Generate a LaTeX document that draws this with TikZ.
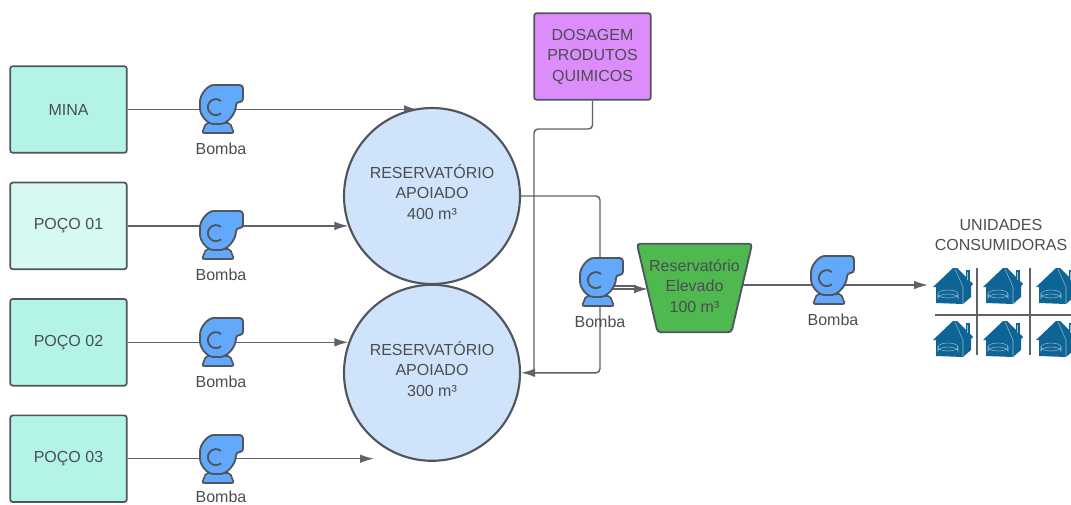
\documentclass[tikz,border=0pt]{standalone}
\usepackage{fontspec}
\setmainfont{Liberation Sans}
\usetikzlibrary{shapes.geometric, arrows.meta, positioning, calc}
\definecolor{linegray}{HTML}{5F6368}
\definecolor{textgray}{HTML}{4A4D52}
\definecolor{borderdark}{HTML}{50555E}
\definecolor{minagreen}{HTML}{B3F4E6}
\definecolor{pocolight}{HTML}{D6FAF2}
\definecolor{resblue}{HTML}{CFE4FA}
\definecolor{dosepurple}{HTML}{DC8CFB}
\definecolor{tankgreen}{HTML}{4FB84F}
\definecolor{pumpblue}{HTML}{62A8FB}
\definecolor{houseblue}{HTML}{0F6496}
\pgfdeclarelayer{back}
\pgfdeclarelayer{mid}
\pgfsetlayers{back,mid,main}
\tikzset{
  every node/.style={text=textgray,font=\fontsize{12}{15.4}\selectfont,align=center},
  source/.style={rectangle,draw=borderdark,line width=1.3pt,rounded corners=2pt,fill=minagreen,minimum width=87.5pt,minimum height=65pt},
  dosebox/.style={source,fill=dosepurple},
  reservoir/.style={circle,draw=borderdark,line width=1.6pt,fill=resblue,minimum size=132pt,inner sep=0pt,text depth=6pt},
  tankbox/.style={rectangle,minimum width=86pt,minimum height=66pt,inner sep=0pt,text depth=3pt},
  tankline/.style={draw=borderdark,line width=1.4pt,rounded corners=2.5pt,fill=tankgreen},
  flow/.style={line width=1.1pt,draw=linegray},
  flowarrow/.style={flow,-{Latex[length=10.5pt,width=6.5pt]}},
  gridline/.style={line width=1.4pt,draw=linegray},
  pump/.pic={
    \fill[pumpblue,draw=borderdark,line width=1.2pt,rounded corners=1.5pt] (-9,16) -- (-13,26) -- (19,26) -- (15,16) -- cycle;
    \fill[pumpblue,draw=borderdark,line width=1.4pt,rounded corners=2.5pt] (-15,-2) .. controls (-15,-13) and (-7,-22) .. (2,-22) -- (28,-22) -- (28,-5) -- (21,-5) .. controls (21,7) and (12,17) .. (2,17) .. controls (-8,17) and (-15,8) .. (-15,-2) -- cycle;
    \draw[borderdark,line width=1.4pt] (6,-6) arc[start angle=-50,end angle=-310,radius=8];
  },
  house/.pic={
    \fill[houseblue] (1,0) -- (1,-16) -- (-2,-16) -- (18,-35) -- (22,-35) -- (38,-19) -- (36,-17) -- (36,-6) -- (28,1) -- cycle;
    \fill[houseblue] (31,-33) rectangle (34.5,-22);
    \draw[white!55!houseblue,line width=.4pt] (20,-34) -- (28,-16) -- (28,1);
    \draw[white!55!houseblue,line width=.4pt] (3,-9) -- (3,-5) arc[start angle=180,end angle=360,x radius=10,y radius=4] -- (23,-9);
    \draw[white!55!houseblue,line width=.4pt] (13,-9) ellipse[x radius=10,y radius=4];
    \draw[white!55!houseblue,line width=.4pt] (32,-31) -- (32,-23);
  }
}
\begin{document}
\begin{tikzpicture}[x=.75pt,y=-.75pt]
  \useasboundingbox (0,0) rectangle (1071,504);
  \node[source] (mina) at (68.5,109.5) {MINA};
  \node[source,fill=pocolight,below=21pt of mina] (poco1) {POÇO 01};
  \node[source,below=21pt of poco1] (poco2) {POÇO 02};
  \node[source,below=21pt of poco2] (poco3) {POÇO 03};
  \node[dosebox] (dosagem) at (592.5,56.5) {DOSAGEM\\PRODUTOS\\QUIMICOS};
  \node[reservoir] (res1) at (432,196) {RESERVATÓRIO\\APOIADO\\400 m³};
  \node[reservoir,below=-1pt of res1] (res2) {RESERVATÓRIO\\APOIADO\\300 m³};
  \node[tankbox] (tanque) at (694.5,288) {Reservatório\\Elevado\\100 m³};
  \node (unidades) at (1001,235) {UNIDADES\\CONSUMIDORAS};
  % pumps
  \coordinate (bomba1) at (215,107);
  \coordinate (bomba2) at (215,233);
  \coordinate (bomba3) at (215,340);
  \coordinate (bomba4) at (215,457);
  \coordinate (bomba5) at (595,280);
  \coordinate (bomba6) at (826,278);
  \pic at (bomba1) {pump};
  \pic at (bomba2) {pump};
  \pic at (bomba3) {pump};
  \pic at (bomba4) {pump};
  \pic at (bomba5) {pump};
  \pic at (bomba6) {pump};
  \node (bomba1txt) at ([shift={(6,42)}]bomba1) {Bomba};
  \node (bomba2txt) at ([shift={(6,42)}]bomba2) {Bomba};
  \node (bomba3txt) at ([shift={(6,42)}]bomba3) {Bomba};
  \node (bomba4txt) at ([shift={(6,40)}]bomba4) {Bomba};
  \node (bomba5txt) at ([shift={(5,42)}]bomba5) {Bomba};
  \node (bomba6txt) at ([shift={(7,42)}]bomba6) {Bomba};
  % free ends and bends
  \coordinate (fim3) at (374,459);
  \coordinate (fimcasas) at (928,285);
  \coordinate (voltaA) at (600,196);
  \coordinate (voltaB) at (534,129);
  \coordinate (saidaA) at (612,286);
  \coordinate (saidaB) at (612,289);
  \coordinate (entradaA) at (636,286);
  \coordinate (entradaB) at (648,289);
  \begin{pgfonlayer}{mid}
    \draw[tankline] (tanque.north west) -- (tanque.north east) -- ([xshift=-15.5pt]tanque.south east) -- ([xshift=15.5pt]tanque.south west) -- cycle;
  \end{pgfonlayer}
  \begin{pgfonlayer}{back}
    \draw[flowarrow] (mina.east) -- (mina.east -| res1.99);
    \draw[flowarrow] (poco1.east) -- (poco1.east -| res1.200);
    \draw[flowarrow] (poco2.east) -- (poco2.east -| res2.160);
    \draw[flowarrow] (poco3.east) -- (poco3.east -| fim3);
    \draw[flowarrow,rounded corners=3pt] (res1.east) -- (voltaA) |- (res2.east);
    \draw[flow,rounded corners=3pt] (dosagem.south) |- (voltaB) -- (voltaB |- res2.east);
    \draw[flow] (saidaA) -- (entradaA);
    \draw[flowarrow] (saidaB) -- (entradaB);
    \draw[flowarrow] (tanque.center |- fimcasas) -- (fimcasas);
  \end{pgfonlayer}
  % houses
  \begin{scope}
    \clip (0,0) rectangle (1071,504);
    \pic at (935,303) {house};
    \pic at (985,303) {house};
    \pic at (1038,303) {house};
    \pic at (935,356) {house};
    \pic at (985,356) {house};
    \pic at (1038,356) {house};
  \end{scope}
  \coordinate (gridL) at (935,315);
  \coordinate (gridR) at (1071,315);
  \coordinate (gridA) at (977,268);
  \coordinate (gridB) at (977,355);
  \coordinate (gridC) at (1030,268);
  \coordinate (gridD) at (1030,355);
  \draw[gridline] (gridL) -- (gridR);
  \draw[gridline] (gridA) -- (gridB);
  \draw[gridline] (gridC) -- (gridD);
\end{tikzpicture}
\end{document}
